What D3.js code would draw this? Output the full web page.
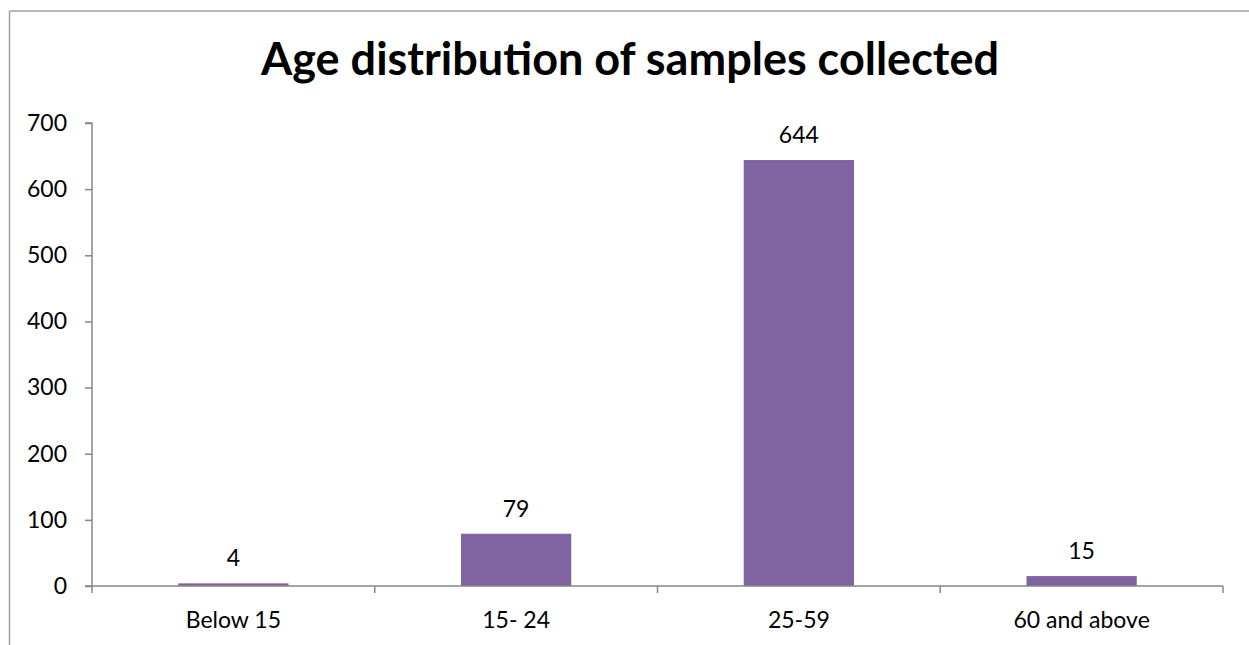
<!DOCTYPE html>
<html>
<head>
<meta charset="utf-8">
<script src="https://cdn.jsdelivr.net/npm/d3@7/dist/d3.min.js"></script>
<style>
  html, body { margin: 0; padding: 0; background: #fff; }
  svg { display: block; }
</style>
</head>
<body>
<script>
const categories = ["Below 15", "15- 24", "25-59", "60 and above"];
const values = [4, 79, 644, 15];
const yTicks = [0, 100, 200, 300, 400, 500, 600, 700];
const chartTitle = "Age distribution of samples collected";

(function () {
const W = 1249, H = 645;
const svg = d3.select("body").append("svg").attr("width", W).attr("height", H);

// outer chart border (left and top visible)
svg.append("line").attr("x1", 9.5).attr("x2", 9.5).attr("y1", 11).attr("y2", H)
  .attr("stroke", "#a0a0a0").attr("stroke-width", 1.5);
svg.append("line").attr("x1", 9.5).attr("x2", W).attr("y1", 11).attr("y2", 11)
  .attr("stroke", "#a0a0a0").attr("stroke-width", 1.5);

const pLeft = 92, pRight = 1223, pTop = 123, pBottom = 586;
const x = d3.scaleBand().domain(categories).range([pLeft, pRight]).paddingInner(0.61).paddingOuter(0.305);
const xOuter = d3.scaleBand().domain(categories).range([pLeft, pRight]);
const y = d3.scaleLinear().domain([0, 700]).range([pBottom, pTop]);

const font = "Lato, 'Liberation Sans', sans-serif";

// title
svg.append("text").attr("x", 630).attr("y", 75)
  .attr("text-anchor", "middle")
  .style("font-family", font).style("font-weight", "bold").style("font-size", "45px")
  .attr("fill", "#000").text(chartTitle);

// bars
svg.selectAll("rect.bar").data(values).enter().append("rect")
  .attr("class", "bar")
  .attr("x", (d, i) => x(categories[i]))
  .attr("width", x.bandwidth())
  .attr("y", d => y(d))
  .attr("height", d => pBottom - y(d))
  .attr("fill", "#8064A2");

// y axis
const yAxis = d3.axisLeft(y).tickValues(yTicks).tickSize(7).tickPadding(18);
const gy = svg.append("g").attr("transform", `translate(${pLeft},0)`).call(yAxis);
gy.select(".domain").attr("stroke", "#868686").attr("stroke-width", 1.5).attr("d", `M-7,${pTop}H0V${pBottom}`);
gy.selectAll(".tick line").attr("stroke", "#868686").attr("stroke-width", 1.5);
gy.selectAll(".tick text").style("font-family", font).style("font-size", "23px").attr("fill", "#000");

// x axis
const gx = svg.append("g").attr("transform", `translate(0,${pBottom})`);
gx.append("line").attr("x1", pLeft - 7).attr("x2", pRight).attr("y1", 0).attr("y2", 0)
  .attr("stroke", "#868686").attr("stroke-width", 1.5);
const bounds = categories.map(c => xOuter(c)).concat([pRight]);
gx.selectAll("line.tk").data(bounds).enter().append("line").attr("class", "tk")
  .attr("x1", d => d).attr("x2", d => d).attr("y1", 0).attr("y2", 7)
  .attr("stroke", "#868686").attr("stroke-width", 1.5);
gx.selectAll("text").data(categories).enter().append("text")
  .attr("x", d => xOuter(d) + xOuter.bandwidth() / 2)
  .attr("y", 42)
  .attr("text-anchor", "middle")
  .style("font-family", font).style("font-size", "23px").attr("fill", "#000")
  .text(d => d);

// data labels
svg.selectAll("text.lbl").data(values).enter().append("text")
  .attr("class", "lbl")
  .attr("x", (d, i) => x(categories[i]) + x.bandwidth() / 2)
  .attr("y", d => y(d) - 17)
  .attr("text-anchor", "middle")
  .style("font-family", font).style("font-size", "23px").attr("fill", "#000")
  .text(d => d);
})();
</script>
</body>
</html>
